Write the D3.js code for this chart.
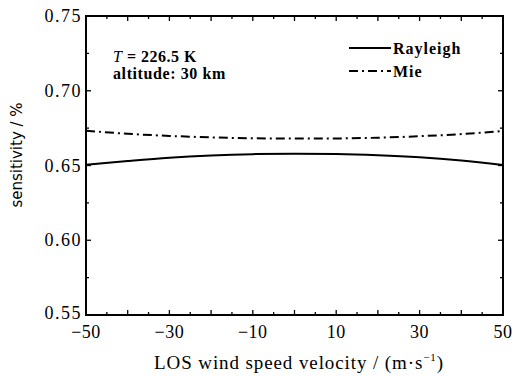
<!DOCTYPE html>
<html>
<head>
<meta charset="utf-8">
<script src="https://cdn.jsdelivr.net/npm/d3@7"></script>
<style>
body { margin: 0; background: #fff; }
svg text { font-family: "Liberation Serif", "Times New Roman", serif; fill: #000; }
</style>
</head>
<body>
<script>
// wind speed (m/s)
var speed = [-50, -40, -30, -20, -10, 0, 10, 20, 30, 40, 50];
var rayleigh = [0.6505, 0.6530, 0.6552, 0.6567, 0.6576, 0.6579, 0.6577, 0.6569, 0.6555, 0.6533, 0.6503];
var mie = [0.6733, 0.6712, 0.6698, 0.6688, 0.6682, 0.6680, 0.6681, 0.6686, 0.6696, 0.6710, 0.6731];
var xTicks = [-50, -30, -10, 10, 30, 50];
var yTicks = [0.55, 0.60, 0.65, 0.70, 0.75];

var w = 516, h = 376;
var margin = {top: 16, right: 13, bottom: 61, left: 86};

var svg = d3.select("body").append("svg")
  .attr("width", w)
  .attr("height", h);

var x = d3.scaleLinear().domain([-50, 50]).range([margin.left, w - margin.right]);
var y = d3.scaleLinear().domain([0.55, 0.75]).range([h - margin.bottom, margin.top]);

var minorX = d3.range(-50, 50.1, 5);
var minorY = d3.range(0.55, 0.7501, 0.025);

// ticks, pointing inward on all four sides
function tickLen(v, step) { return Math.abs(Math.round(v / step) * step - v) < 1e-6 ? 5 : 3; }

var g = svg.append("g").attr("stroke", "#000").attr("stroke-width", 1.3);
minorX.forEach(function(v) {
  var len = tickLen(v, 10);
  g.append("line").attr("x1", x(v)).attr("x2", x(v)).attr("y1", y(0.55)).attr("y2", y(0.55) - len);
  g.append("line").attr("x1", x(v)).attr("x2", x(v)).attr("y1", y(0.75)).attr("y2", y(0.75) + len);
});
minorY.forEach(function(v) {
  var len = tickLen(v, 0.05);
  g.append("line").attr("y1", y(v)).attr("y2", y(v)).attr("x1", x(-50)).attr("x2", x(-50) + len);
  g.append("line").attr("y1", y(v)).attr("y2", y(v)).attr("x1", x(50)).attr("x2", x(50) - len);
});

// frame
svg.append("rect")
  .attr("x", x(-50)).attr("y", y(0.75))
  .attr("width", x(50) - x(-50)).attr("height", y(0.55) - y(0.75))
  .attr("fill", "none").attr("stroke", "#000").attr("stroke-width", 2);

// tick labels
svg.selectAll(".xl").data(xTicks).enter().append("text")
  .attr("x", function(d) { return x(d); })
  .attr("y", h - margin.bottom + 23)
  .attr("text-anchor", "middle")
  .style("font-size", "18px")
  .style("letter-spacing", "0.5px")
  .text(function(d) { return d < 0 ? "\u2212" + Math.abs(d) : d; });

svg.selectAll(".yl").data(yTicks).enter().append("text")
  .attr("x", margin.left - 4)
  .attr("y", function(d) { return y(d) + (d === 0.55 ? 4 : 6); })
  .attr("text-anchor", "end")
  .style("font-size", "18px")
  .style("letter-spacing", "1.5px")
  .text(function(d) { return d.toFixed(2); });

// axis titles
var xt = svg.append("text")
  .attr("x", 299)
  .attr("y", 369)
  .attr("text-anchor", "middle")
  .style("font-size", "19px")
  .style("letter-spacing", "0.9px");
xt.append("tspan").text("LOS wind speed velocity / (m\u00b7s");
xt.append("tspan").attr("dy", -8).style("font-size", "11px").text("\u22121");
xt.append("tspan").attr("dy", 8).text(")");

svg.append("text")
  .attr("transform", "translate(22,155) rotate(-90)")
  .attr("text-anchor", "middle")
  .style("font-family", "'DejaVu Sans', sans-serif")
  .style("font-size", "15px")
  .text("sensitivity / %");

// lines
var line = d3.line()
  .x(function(d, i) { return x(speed[i]); })
  .y(function(d) { return y(d); })
  .curve(d3.curveMonotoneX);

svg.append("path").datum(rayleigh)
  .attr("d", line)
  .attr("fill", "none").attr("stroke", "#000").attr("stroke-width", 2);

svg.append("path").datum(mie)
  .attr("d", line)
  .attr("fill", "none").attr("stroke", "#000").attr("stroke-width", 2)
  .attr("stroke-dasharray", "9,4,2,4");

// annotation
var ann = svg.append("text").attr("x", 113).attr("y", 62)
  .style("font-size", "16px").style("font-weight", "bold").style("letter-spacing", "0.5px");
ann.append("tspan").style("font-style", "italic").style("font-weight", "normal").text("T");
ann.append("tspan").text(" = 226.5 K");
svg.append("text").attr("x", 113).attr("y", 79)
  .style("font-size", "16px").style("font-weight", "bold").style("letter-spacing", "0.6px")
  .text("altitude: 30 km");

// legend
var legend = [
  {name: "Rayleigh", dash: null, y: 48},
  {name: "Mie", dash: "9,4,2,4", y: 71}
];
legend.forEach(function(d) {
  svg.append("line")
    .attr("x1", 349).attr("x2", 391).attr("y1", d.y).attr("y2", d.y)
    .attr("stroke", "#000").attr("stroke-width", 2)
    .attr("stroke-dasharray", d.dash);
  svg.append("text").attr("x", 393).attr("y", d.y + 6)
    .style("font-size", "16px").style("font-weight", "bold").style("letter-spacing", "1px")
    .text(d.name);
});
</script>
</body>
</html>
